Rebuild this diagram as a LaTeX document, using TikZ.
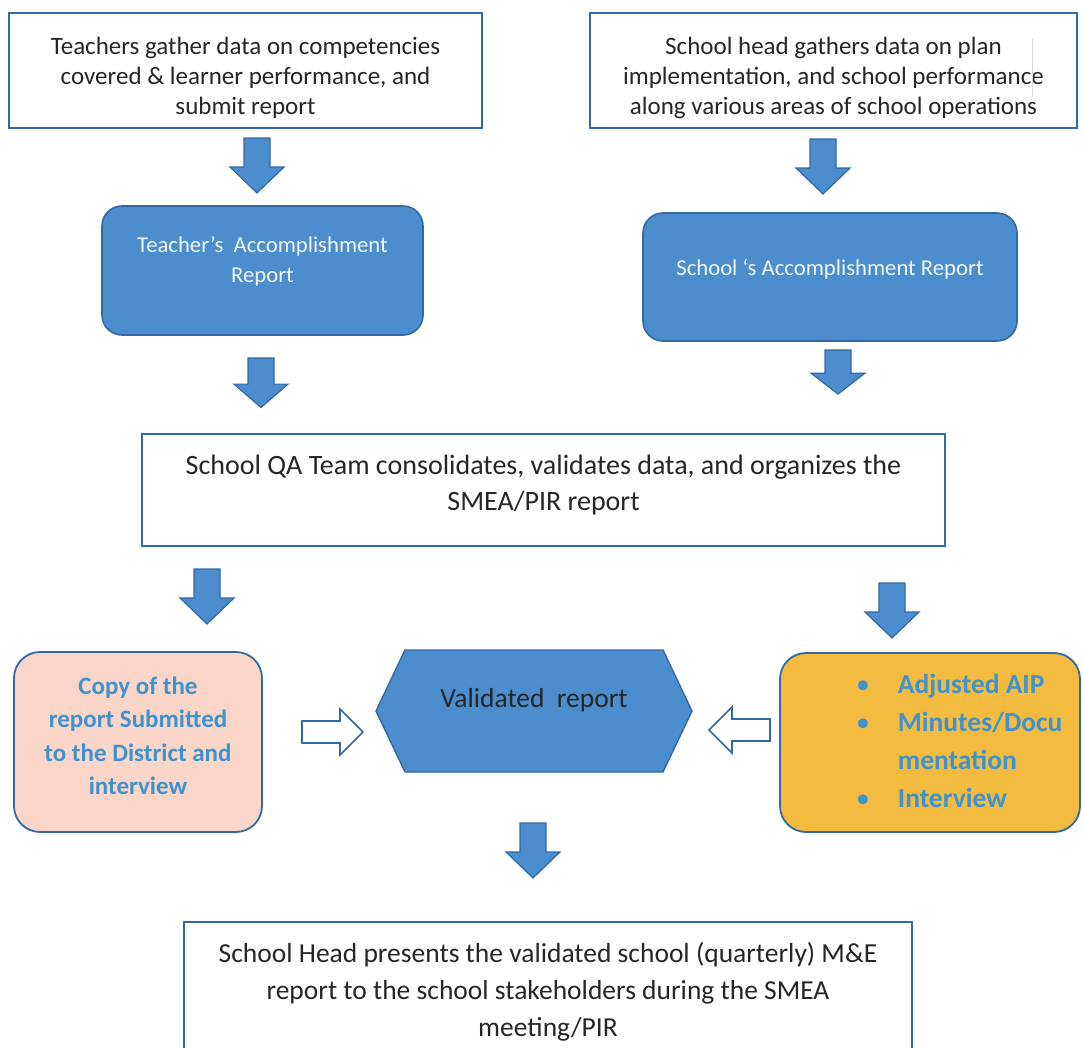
\documentclass[tikz,border=0pt]{standalone}
\usepackage{fontspec}
\setmainfont{Carlito}
\usepackage{color}

\definecolor{boxblue}{RGB}{76,141,206}
\definecolor{edgeblue}{RGB}{50,104,166}
\definecolor{pinkfill}{RGB}{249,214,199}
\definecolor{goldfill}{RGB}{243,187,64}
\definecolor{txtblue}{RGB}{62,146,205}
\definecolor{txtdark}{RGB}{38,38,38}

\newcommand{\shiftby}[2]{\raisebox{#1}[\height][\depth]{\begin{tabular}{@{}c@{}}#2\end{tabular}}}

\tikzset{%
  plainbox/.style={draw=edgeblue, line width=1.8pt, fill=white, text=txtdark,
    align=center, inner sep=0pt, font=\fontsize{25}{30}\selectfont},
  widefont/.style={font=\fontsize{28}{36}\selectfont},
  lastfont/.style={font=\fontsize{27.5}{37}\selectfont},
  bluebox/.style={draw=edgeblue, line width=1.6pt, fill=boxblue, rounded corners=20pt,
    text=white!92!boxblue, align=center, inner sep=0pt, font=\fontsize{22.7}{30}\selectfont},
  pinkbox/.style={draw=edgeblue, line width=1.8pt, fill=pinkfill, rounded corners=26pt,
    text=txtblue, align=center, inner sep=0pt, font=\fontsize{25}{33.5}\selectfont\bfseries},
  goldbox/.style={draw=edgeblue, line width=1.8pt, fill=goldfill, rounded corners=26pt},
  bullettext/.style={text=txtblue, inner sep=0pt, font=\fontsize{27.5}{38}\selectfont\bfseries},
  hexfill/.style={draw=edgeblue, line width=1.4pt, fill=boxblue},
  hextext/.style={text=txtdark, inner sep=0pt, font=\fontsize{27.5}{30}\selectfont},
  arrfill/.style={draw=edgeblue, line width=1.2pt, fill=boxblue, line join=miter},
  openarr/.style={draw=edgeblue, line width=1.6pt, fill=white, line join=miter},
  downarr/.pic={\filldraw[arrfill] (-13,0) -- (13,0) -- (13,29) -- (27,29) -- (0,55)
    -- (-27,29) -- (-13,29) -- cycle;},
  rightarr/.pic={\filldraw[openarr] (0,-11) -- (38,-11) -- (38,-23) -- (61,0) -- (38,23)
    -- (38,11) -- (0,11) -- cycle;},
}

\begin{document}
\begin{tikzpicture}[%
      x=1pt, y=-1pt,
      ]
      \useasboundingbox (0,0) rectangle (1083,1047);
      \clip (0,0) rectangle (1083,1047);

      \node[plainbox, minimum width=473pt, minimum height=115pt] (teachers) at (245.5,70.5)
        {\shiftby{-8pt}{Teachers gather data on competencies\\covered \& learner performance, and\\submit report}};
      \node[plainbox, minimum width=487pt, minimum height=115pt] (head) at (833.5,70.5)
        {\shiftby{-8pt}{School head gathers data on plan\\implementation, and school performance\\along various areas of school operations}};
      \draw[color=black!15, line width=0.8pt] (1032,38) -- (1032,97);

      \pic at (257,138) {downarr};
      \pic at (823,139) {downarr};

      \node[bluebox, minimum width=321pt, minimum height=129pt] (tar) at (262.5,270.5)
        {\shiftby{9pt}{Teacher’s~~Accomplishment\\Report}};
      \node[bluebox, minimum width=374pt, minimum height=128pt] (sar) at (830,277)
        {\shiftby{8pt}{School ‘s Accomplishment Report}};

      \pic[yscale=0.9] at (261,358) {downarr};
      \pic[yscale=0.8] at (838,350) {downarr};

      \node[plainbox, widefont, minimum width=803pt, minimum height=112pt] (qa) at (543.5,490)
        {\shiftby{5pt}{School QA Team consolidates, validates data, and organizes the\\SMEA/PIR report}};

      \pic at (207,569) {downarr};
      \pic at (892,583) {downarr};

      \node[pinkbox, minimum width=248pt, minimum height=180pt] (copy) at (138,742)
        {\shiftby{4pt}{Copy of the\\report Submitted\\to the District and\\interview}};

      \filldraw[hexfill] (376,711) -- (405,650) -- (663,650) -- (692,711) -- (663,772)
        -- (405,772) -- cycle;
      \node[hextext] (valid) at (534,700) {Validated~~report};

      \node[goldbox, minimum width=300pt, minimum height=179pt] (adj) at (930,742.5) {};
      \node[bullettext, anchor=west] (adjtxt) at (856,743)
        {\begin{tabular}{@{}l@{\hspace{28pt}}l@{}}
          {\mdseries\textbullet} & Adjusted AIP\\
          {\mdseries\textbullet} & Minutes/Docu\\
           & mentation\\
          {\mdseries\textbullet} & Interview
        \end{tabular}};

      \pic at (302,732) {rightarr};
      \pic[xscale=-1] at (770,730) {rightarr};

      \pic at (533,823) {downarr};

      \node[plainbox, lastfont, minimum width=728pt, minimum height=140pt, anchor=north] (present) at (548,921)
        {School Head presents the validated school (quarterly) M\&E\\report to the school stakeholders during the SMEA\\meeting/PIR};
      \end{tikzpicture}
\end{document}
